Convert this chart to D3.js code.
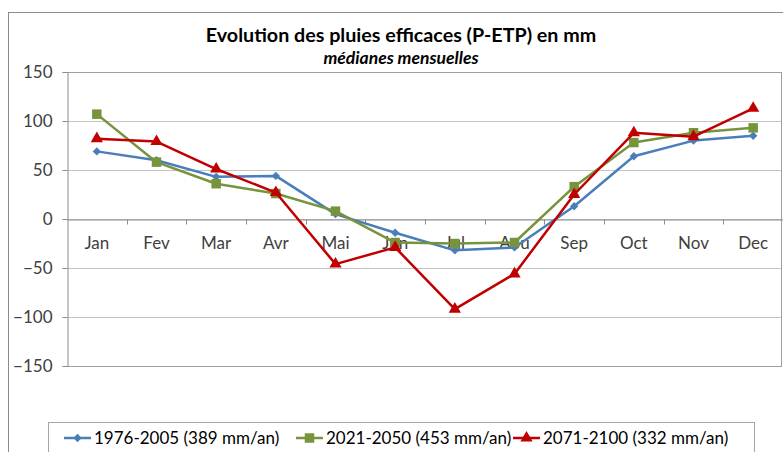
<!DOCTYPE html>
<html>
<head>
<meta charset="utf-8">
<script src="https://cdn.jsdelivr.net/npm/d3@7"></script>
<style>
  body { margin: 0; background: #fff; }
  svg { display: block; font-family: Lato, "Open Sans", sans-serif; }
</style>
</head>
<body>
<svg id="chart"></svg>
<script>
const months = ["Jan", "Fev", "Mar", "Avr", "Mai", "Jun", "Jul", "Aou", "Sep", "Oct", "Nov", "Dec"];
const yTicks = [-150, -100, -50, 0, 50, 100, 150];

const ref1976 = [69, 60, 43, 44, 5, -14, -32, -29, 13, 64, 80, 85];
const mid2021 = [107, 58, 36, 26, 8, -24, -25, -24, 33, 78, 88, 93];
const end2071 = [82, 79, 51, 27, -46, -29, -92, -56, 25, 88, 84, 113];

const series = [
  { name: "1976-2005 (389 mm/an)", values: ref1976, color: "#4A7EBB", marker: "diamond" },
  { name: "2021-2050 (453 mm/an)", values: mid2021, color: "#77933C", marker: "square" },
  { name: "2071-2100 (332 mm/an)", values: end2071, color: "#C00000", marker: "triangle" },
];

const W = 783, H = 452;
const margin = { top: 72, right: 0, bottom: 86, left: 67 };

const svg = d3.select("#chart").attr("width", W).attr("height", H);

svg.append("rect").attr("width", W).attr("height", H).attr("fill", "#fff");

// outer chart frame
svg.append("rect")
  .attr("x", 8.5).attr("y", 12.5)
  .attr("width", 820).attr("height", 500)
  .attr("fill", "none")
  .attr("stroke", "#8C8C8C");

// titles
svg.append("text")
  .attr("x", 401).attr("y", 42)
  .attr("text-anchor", "middle")
  .style("font-size", "19.7px").style("font-weight", "bold")
  .style("fill", "#000")
  .text("Evolution des pluies efficaces (P-ETP) en mm");

svg.append("text")
  .attr("x", 401).attr("y", 64)
  .attr("text-anchor", "middle")
  .style("font-size", "17.5px").style("font-weight", "bold").style("font-style", "italic")
  .style("fill", "#000")
  .text("médianes mensuelles");

const x = d3.scaleBand()
  .domain(months)
  .range([margin.left, W]);

const y = d3.scaleLinear()
  .domain([-150, 150])
  .range([H - margin.bottom, margin.top]);

// gridlines
svg.append("g")
  .selectAll("line")
  .data(yTicks)
  .join("line")
  .attr("x1", margin.left).attr("x2", W - 1)
  .attr("y1", (d) => Math.round(y(d)) + 0.5)
  .attr("y2", (d) => Math.round(y(d)) + 0.5)
  .attr("stroke", (d) => (d === 150 || d === -150 ? "#A0A0A0" : "#C4C4C4"))
  .attr("stroke-width", 1.2);

// right border of plot area
svg.append("line")
  .attr("x1", W - 1.5).attr("x2", W - 1.5)
  .attr("y1", y(150)).attr("y2", y(-150))
  .attr("stroke", "#A0A0A0");

// y axis
const yAxis = d3.axisLeft(y).tickValues(yTicks).tickSize(5).tickPadding(10);
const yG = svg.append("g")
  .attr("transform", `translate(${margin.left + 0.5},0)`)
  .call(yAxis);
yG.select(".domain").attr("stroke", "#8C8C8C");
yG.selectAll(".tick line").attr("stroke", "#8C8C8C");
yG.selectAll("text").style("font-size", "17px").style("fill", "#404040").style("font-family", "Lato, sans-serif");

// category axis at zero
const xAxis = d3.axisBottom(x).tickSize(0).tickPadding(17);
const xG = svg.append("g")
  .attr("transform", `translate(0,${Math.round(y(0)) + 0.5})`)
  .call(xAxis);
xG.select(".domain").attr("stroke", "#8C8C8C");
xG.selectAll("text").style("font-size", "17px").style("fill", "#404040").style("font-family", "Lato, sans-serif");
xG.selectAll(".sep")
  .data(months.slice(1))
  .join("line")
  .attr("class", "sep")
  .attr("x1", (d) => Math.round(x(d)) + 0.5).attr("x2", (d) => Math.round(x(d)) + 0.5)
  .attr("y1", 0).attr("y2", 5)
  .attr("stroke", "#8C8C8C");

function markerPath(type) {
  if (type === "diamond") return d3.symbol(d3.symbolDiamond2, 45)();
  if (type === "square") return d3.symbol(d3.symbolSquare, 90)();
  return d3.symbol(d3.symbolTriangle, 65)();
}

const line = d3.line()
  .x((d, i) => x(months[i]) + x.bandwidth() / 2)
  .y((d) => y(d));

series.forEach((s) => {
  const g = svg.append("g");
  g.append("path")
    .datum(s.values)
    .attr("fill", "none")
    .attr("stroke", s.color)
    .attr("stroke-width", 2.5)
    .attr("stroke-linejoin", "round")
    .attr("d", line);
  g.selectAll(".pt")
    .data(s.values)
    .join("path")
    .attr("class", "pt")
    .attr("d", markerPath(s.marker))
    .attr("transform", (d, i) => `translate(${x(months[i]) + x.bandwidth() / 2},${y(d)})`)
    .attr("fill", s.color);
});

// legend
svg.append("rect")
  .attr("x", 48.5).attr("y", 422.5)
  .attr("width", 706).attr("height", 40)
  .attr("fill", "#fff")
  .attr("stroke", "#A6A6A6");

const legendX = [64, 296, 513];
series.forEach((s, i) => {
  const g = svg.append("g").attr("transform", `translate(${legendX[i]},438)`);
  g.append("line")
    .attr("x1", 0).attr("x2", 27)
    .attr("stroke", s.color).attr("stroke-width", 2.5);
  g.append("path")
    .attr("d", markerPath(s.marker))
    .attr("transform", "translate(13.5,0)")
    .attr("fill", s.color);
  g.append("text")
    .attr("x", 30).attr("dy", "0.35em")
    .style("font-size", "17px").style("fill", "#000")
    .text(s.name);
});
</script>
</body>
</html>
